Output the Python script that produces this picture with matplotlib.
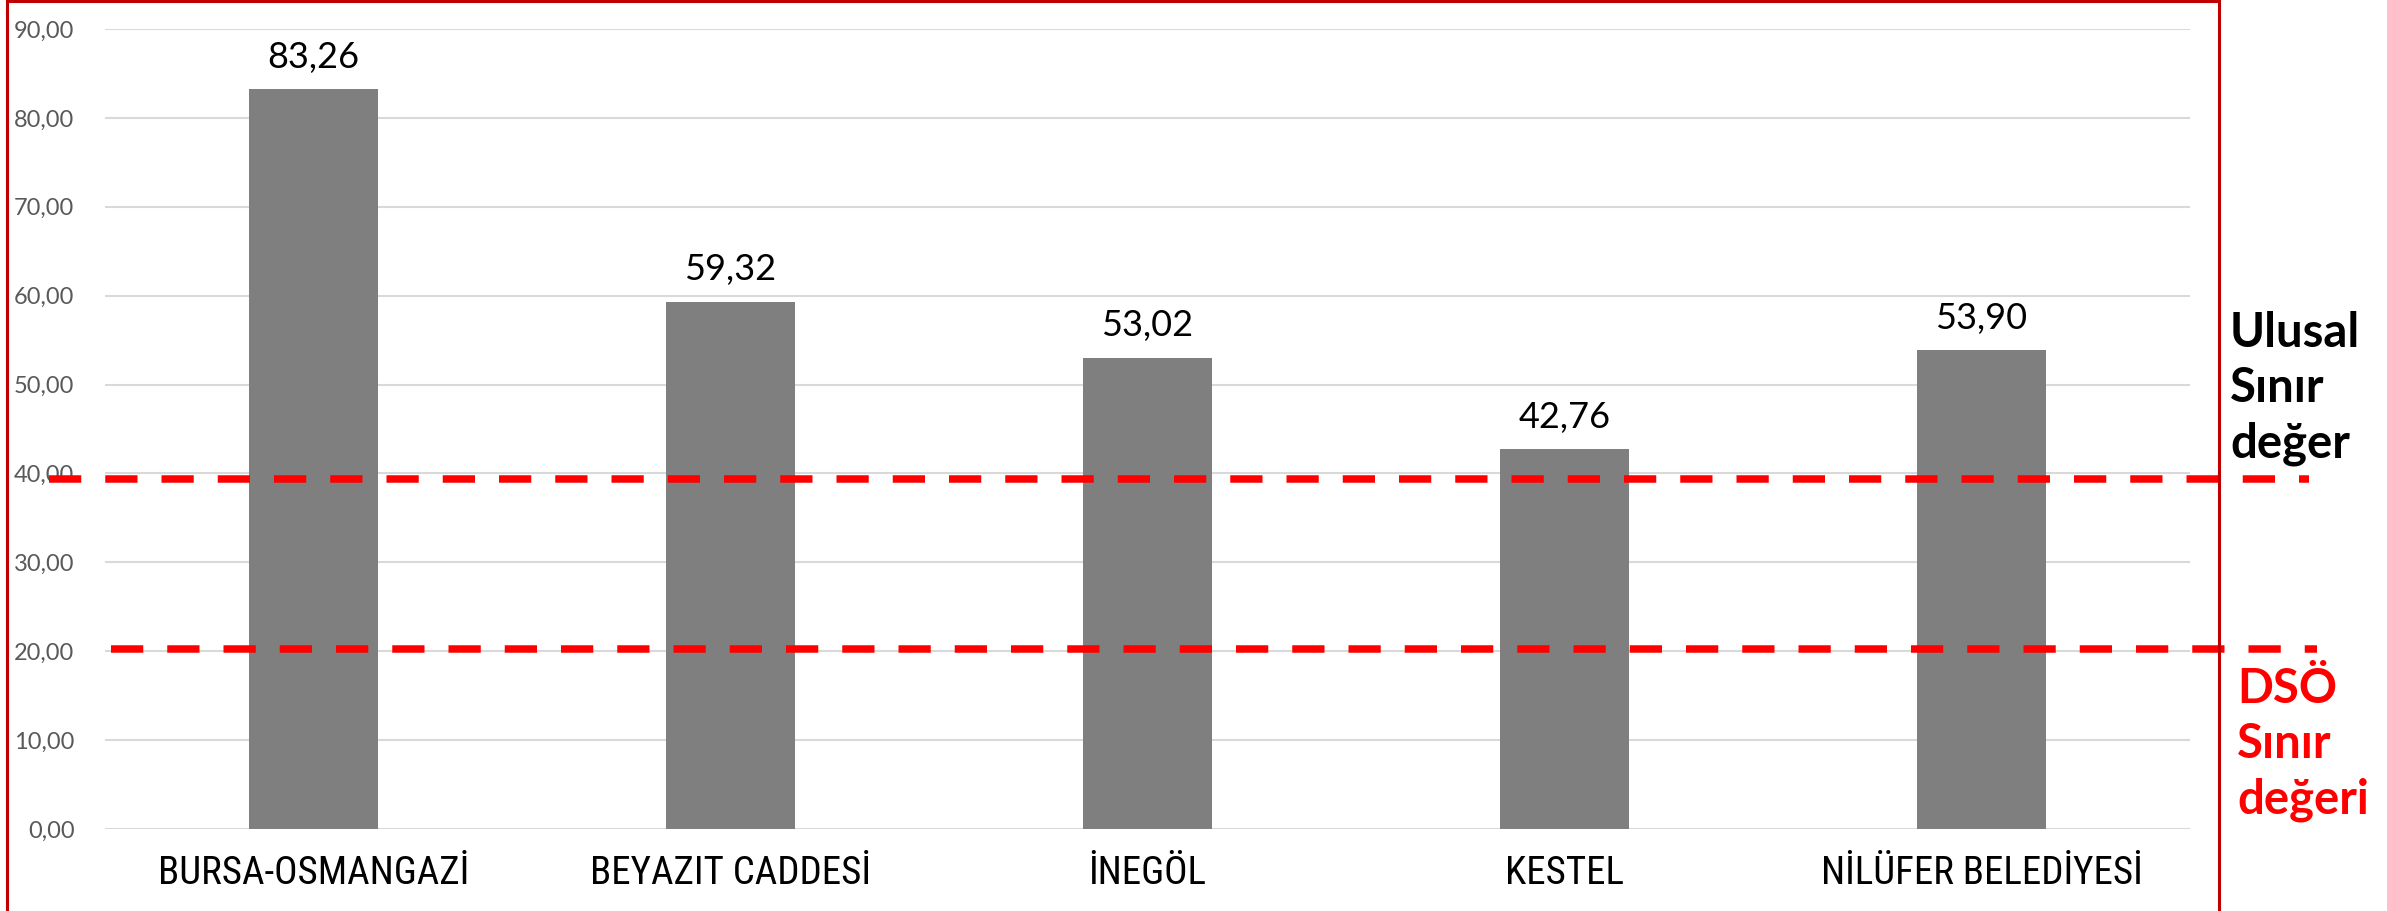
import matplotlib
matplotlib.use("Agg")
import matplotlib.pyplot as plt
from matplotlib.patches import Rectangle
from matplotlib import font_manager

categories = ["BURSA-OSMANGAZİ", "BEYAZIT CADDESİ", "İNEGÖL", "KESTEL", "NİLÜFER BELEDİYESİ"]
values = [83.26, 59.32, 53.02, 42.76, 53.90]
yticks = [0, 10, 20, 30, 40, 50, 60, 70, 80, 90]
ulusal_limit = 39.4
dso_limit = 20.3

names = {f.name for f in font_manager.fontManager.ttflist}
cond = [(f.name, f.stretch) for f in font_manager.fontManager.ttflist]
cat_font = dict(fontfamily="Roboto", fontsize=24)
for cand in ["Liberation Sans Narrow", "Roboto Condensed", "Open Sans Condensed", "Noto Sans Condensed"]:
    if cand in names:
        cat_font = dict(fontfamily=cand, fontsize=28)
        break
else:
    for n, st in cond:
        if n == "DejaVu Sans" and st == "condensed":
            cat_font = dict(fontfamily="DejaVu Sans", fontstretch="condensed", fontsize=25)
            break

W, H = 2387, 911
fig = plt.figure(figsize=(W / 100, H / 100), dpi=100)
ax = fig.add_axes([105 / W, 1 - 829 / H, (2190 - 105) / W, (829 - 29) / H])

x = list(range(len(categories)))
ax.bar(x, values, width=0.31, color="#7f7f7f", zorder=2)
ax.set_xlim(-0.5, len(categories) - 0.5)
ax.set_ylim(0, 90)

ax.set_yticks(yticks)
ax.set_yticklabels([f"{v:.2f}".replace(".", ",") for v in yticks],
                   fontfamily="Lato", fontsize=17, color="#595959")
ax.set_xticks(x)
ax.set_xticklabels(categories, color="black", **cat_font)
ax.tick_params(axis="both", length=0)
ax.tick_params(axis="y", pad=22)
ax.tick_params(axis="x", pad=19)
ax.grid(axis="y", color="#d9d9d9", linewidth=1.5, zorder=0)
ax.set_axisbelow(True)
for s in ax.spines.values():
    s.set_visible(False)

for xi, v in zip(x, values):
    ax.annotate(f"{v:.2f}".replace(".", ","), (xi, v), xytext=(0, 11),
                textcoords="offset points", ha="center", va="bottom",
                fontfamily="Lato", fontsize=26, color="black")

ls = (0, (4.3, 3.2))
ax.axhline(ulusal_limit, xmin=(49 - 105) / 2085, xmax=(2309 - 105) / 2085,
           color="#ff0000", linewidth=5.4, linestyle=ls, clip_on=False, zorder=5)
ax.axhline(dso_limit, xmin=(111 - 105) / 2085, xmax=(2317 - 105) / 2085,
           color="#ff0000", linewidth=5.4, linestyle=ls, clip_on=False, zorder=5)

fig.patches.append(Rectangle((7 / W, -0.1), (2219 - 7) / W, 1.1 - 1.5 / H,
                             transform=fig.transFigure, fill=False,
                             edgecolor="#c00000", linewidth=2.2, zorder=10))

fig.text(2230 / W, 1 - 457 / H, "Ulusal\nSınır\ndeğer", ha="left", va="baseline",
         fontfamily="Lato", fontweight="bold", fontsize=34, color="black",
         linespacing=1.31)
fig.text(2237 / W, 1 - 813 / H, "DSÖ\nSınır\ndeğeri", ha="left", va="baseline",
         fontfamily="Lato", fontweight="bold", fontsize=34, color="#ff0000",
         linespacing=1.31)

fig.savefig("out.png", dpi=100)
